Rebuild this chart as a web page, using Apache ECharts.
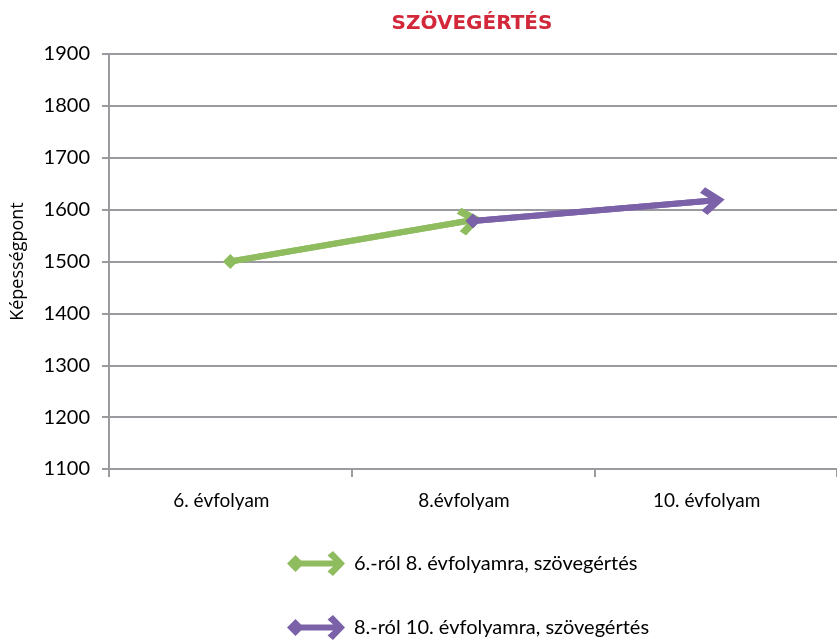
<!DOCTYPE html>
<html>
<head>
<meta charset="utf-8">
<script src="https://cdn.jsdelivr.net/npm/echarts@6/dist/echarts.min.js"></script>
<style>
  html, body { margin: 0; padding: 0; background: #ffffff; }
  #chart { width: 837px; height: 644px; }
</style>
</head>
<body>
<div id="chart"></div>
<script>
// ---- data ----
const categories = ['6. évfolyam', '8.évfolyam', '10. évfolyam'];
const seriesNames = ['6.-ról 8. évfolyamra, szövegértés', '8.-ról 10. évfolyamra, szövegértés'];
const grade6to8 = [1500, 1580, null];
const grade8to10 = [null, 1578, 1618];
const yMin = 1100;
const yMax = 1900;
const yStep = 100;
const titleText = 'SZÖVEGÉRTÉS';
const yAxisName = 'Képességpont';

// ---- styles ----
const colors = ['#8fbc5f', '#7b62a8'];
const axisColor = '#9b9b9f';
const CHEVRON = 'path://M50 0 L100 60 L82 78 L50 40 L18 78 L0 60 Z';
const LEGEND_ICON = 'path://M0 12.5 L8.5 4 L17 12.5 L8.5 21 Z M8 9.5 L53 9.5 L53 15.5 L8 15.5 Z M58 12.5 L46 25 L40.5 20.5 L49.5 12.5 L40.5 4.5 L46 0 Z';

function makeSeries(name, values, color, zBase) {
  let first = -1, last = -1;
  values.forEach((v, i) => { if (v != null) { if (first < 0) first = i; last = i; } });
  return {
    name: name,
    type: 'line',
    data: values,
    z: zBase,
    connectNulls: false,
    showSymbol: true,
    symbol: (v, p) => (p.dataIndex === first ? 'diamond' : 'none'),
    symbolSize: 15,
    lineStyle: { width: 6, color: color, cap: 'butt' },
    itemStyle: { color: color },
    emphasis: { disabled: true },
    silent: true,
    markLine: {
      silent: true,
      z: zBase + 1,
      symbol: ['none', CHEVRON],
      symbolSize: [0, [28, 24]],
      symbolOffset: [[0, 0], [0, 3]],
      label: { show: false },
      lineStyle: { type: 'solid', width: 6, color: color },
      emphasis: { disabled: true },
      animation: false,
      data: [[
        { coord: [categories[last - 1], values[last - 1]], symbol: 'none' },
        { coord: [categories[last], values[last]], symbol: CHEVRON, symbolSize: [28, 24], symbolOffset: [0, 3] }
      ]]
    }
  };
}

// center title at about x = 472
const cv = document.createElement('canvas').getContext('2d');
cv.font = 'bold 20px "DejaVu Sans"';
const titleW = cv.measureText(titleText).width;

const chart = echarts.init(document.getElementById('chart'), null, { renderer: 'canvas' });
chart.setOption({
  animation: false,
  backgroundColor: '#ffffff',
  title: {
    text: titleText,
    left: 472 - titleW / 2,
    top: 14,
    padding: 0,
    textStyle: { color: '#d2283a', fontFamily: 'DejaVu Sans', fontWeight: 'bold', fontSize: 20 }
  },
  grid: { left: 109, right: -9, top: 54, bottom: 175, containLabel: false },
  legend: {
    orient: 'vertical',
    left: 287,
    top: 551,
    height: 92,
    padding: 0,
    itemWidth: 58,
    itemHeight: 25,
    itemGap: 39,
    selectedMode: false,
    textStyle: { fontFamily: 'Lato', fontSize: 20, color: '#000000', padding: [0, 0, 0, 4] },
    data: seriesNames.map((n, i) => ({ name: n, icon: LEGEND_ICON, itemStyle: { color: colors[i] } }))
  },
  xAxis: {
    type: 'category',
    data: categories,
    boundaryGap: true,
    axisLine: { show: true, lineStyle: { color: axisColor, width: 2 } },
    axisTick: { show: true, length: 8, lineStyle: { color: axisColor, width: 2 } },
    axisLabel: { color: '#000000', fontFamily: 'Lato', fontSize: 19, margin: 22, padding: [0, 18, 0, 0] },
    splitLine: { show: false }
  },
  yAxis: {
    type: 'value',
    min: yMin,
    max: yMax,
    interval: yStep,
    name: yAxisName,
    nameLocation: 'middle',
    nameRotate: 90,
    nameGap: 82,
    nameTextStyle: { color: '#000000', fontFamily: 'Open Sans', fontSize: 18 },
    axisLine: { show: true, lineStyle: { color: axisColor, width: 2 } },
    axisTick: { show: true, length: 7, lineStyle: { color: axisColor, width: 2 } },
    axisLabel: { color: '#000000', fontFamily: 'Lato', fontSize: 20, margin: 19, formatter: (v) => String(v) },
    splitLine: { show: true, lineStyle: { color: axisColor, width: 2 } }
  },
  series: [
    makeSeries(seriesNames[0], grade6to8, colors[0], 2),
    makeSeries(seriesNames[1], grade8to10, colors[1], 4)
  ]
});
</script>
</body>
</html>
